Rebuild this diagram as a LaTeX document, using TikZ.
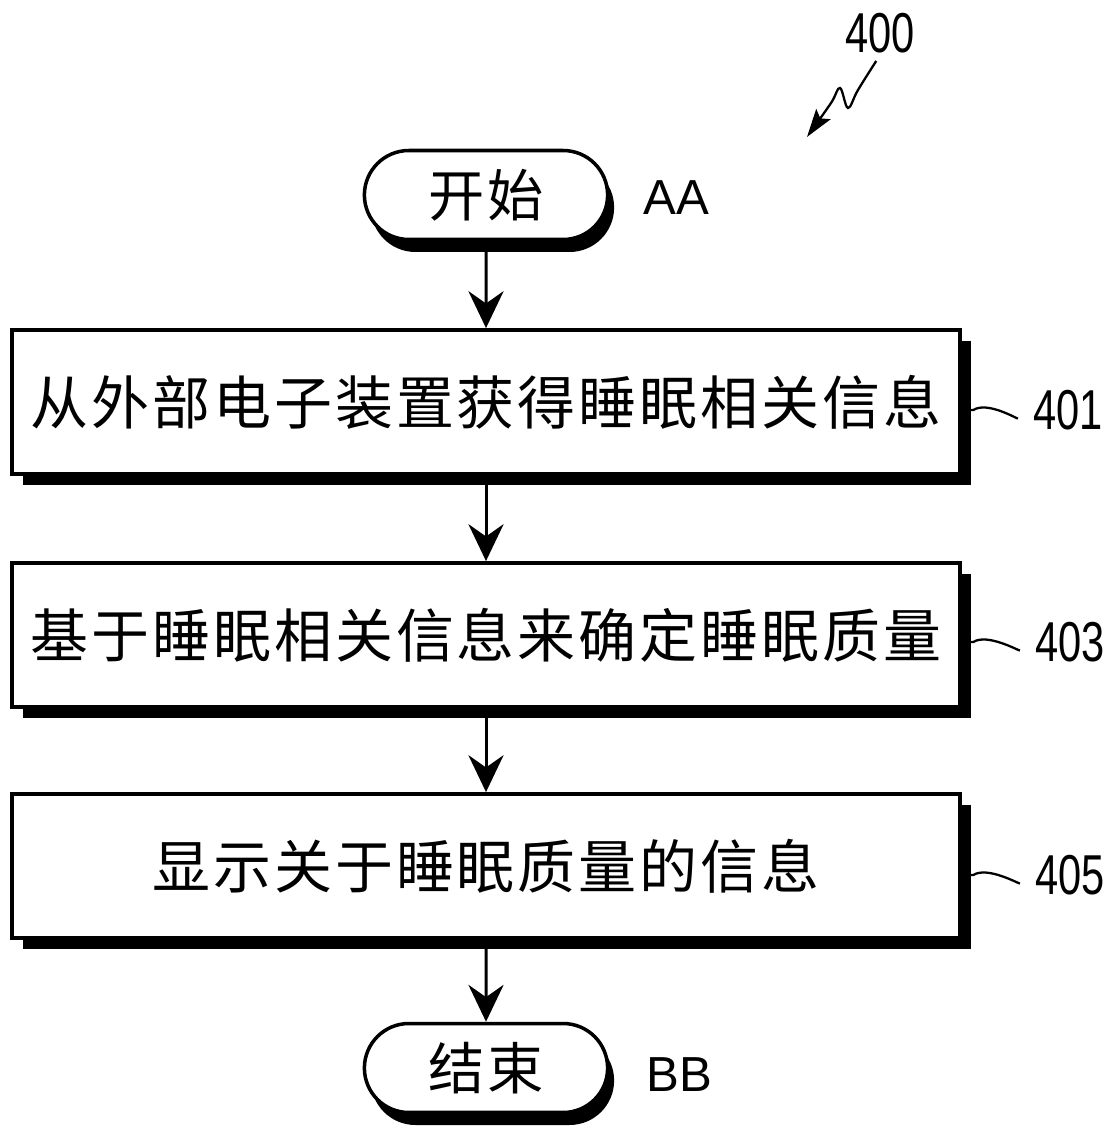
\documentclass[tikz,border=0pt]{standalone}
\usepackage{fontspec}
\setmainfont{Liberation Sans}
\newfontfamily\cjk[LetterSpace=5]{Noto Sans CJK SC}
\usetikzlibrary{arrows.meta,shapes.misc,shadows}

\tikzset{
  procbox/.style={draw, line width=2.2pt, fill=white,
    minimum width=18.98cm, minimum height=2.88cm,
    font=\cjk\fontsize{33}{40}\selectfont,
    drop shadow={shadow xshift=0.22cm, shadow yshift=-0.22cm, fill=black, opacity=1}},
  termbox/.style={draw, rounded rectangle, line width=2pt, fill=white,
    minimum width=5.1cm, minimum height=1.78cm,
    font=\cjk\fontsize{32}{38}\selectfont,
    drop shadow={shadow xshift=0.13cm, shadow yshift=-0.25cm, fill=black, opacity=1}},
  reflabel/.style={font=\fontsize{32}{36}\selectfont, inner sep=1pt},
  tiplabel/.style={font=\fontsize{28}{32}\selectfont, inner sep=1pt},
  flowarr/.style={-{Stealth[length=21pt, width=20pt, inset=7pt]}, line width=1.7pt},
  zigarr/.style={-{Stealth[length=16pt, width=10pt, inset=3pt]}, line width=1.3pt},
  tilde/.style={line width=1.3pt, shorten >=9pt}
}

\begin{document}
\begin{tikzpicture}[x=0.02cm, y=-0.02cm]
    \useasboundingbox (0,0) rectangle (1118,1138);

    % place nodes
    \node[termbox] at (486, 195)  (start) {开始};
    \node[procbox] at (486, 402)  (s401)  {从外部电子装置获得睡眠相关信息};
    \node[procbox] at (486, 635)  (s403)  {基于睡眠相关信息来确定睡眠质量};
    \node[procbox] at (486, 866)  (s405)  {显示关于睡眠质量的信息};
    \node[termbox] at (486, 1068) (stop)  {结束};

    \node[tiplabel] at (676, 198)  (aa) {AA};
    \node[tiplabel] at (679, 1075) (bb) {BB};

    \node[reflabel] at (880, 33)   (l400) {\scalebox{0.74}[1]{400}};
    \node[reflabel] at (1068, 410) (l401) {\scalebox{0.74}[1]{401}};
    \node[reflabel] at (1070, 642) (l403) {\scalebox{0.74}[1]{403}};
    \node[reflabel] at (1070, 875) (l405) {\scalebox{0.74}[1]{405}};

    \coordinate (p400) at (807, 137);

    % draw edges
    \draw[flowarr] (start) -- (s401);
    \draw[flowarr] (s401) -- (s403);
    \draw[flowarr] (s403) -- (s405);
    \draw[flowarr] (s405) -- (stop);

    % reference marks
    \draw[tilde] (s401.east |- l401.west) -- ++(11,0) .. controls +(14,-9) and +(-14,9) .. (l401.west);
    \draw[tilde] (s403.east |- l403.west) -- ++(11,0) .. controls +(14,-9) and +(-14,9) .. (l403.west);
    \draw[tilde] (s405.east |- l405.west) -- ++(11,0) .. controls +(14,-9) and +(-14,9) .. (l405.west);
    \draw[zigarr, shorten <=4pt] plot[smooth, tension=0.6] coordinates {(l400.south) (858,90) (848,108) (840,88) (831,103) (p400)};
\end{tikzpicture}
\end{document}
